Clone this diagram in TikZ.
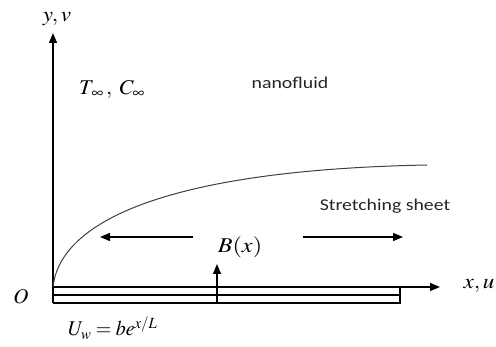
\documentclass[tikz,border=0pt]{standalone}
\usepackage{mathptmx}
\usepackage{fontspec}
\newfontfamily\calibri{Carlito}
\usetikzlibrary{arrows.meta}
\tikzset{
  ax/.style={line width=1.3pt, -{Triangle[length=10pt,width=8pt]}},
  arr/.style={line width=1.3pt, -{Triangle[length=10pt,width=8pt]}},
  sheetline/.style={line width=1.2pt},
  mlab/.style={inner sep=0pt, font=\fontsize{21}{24}\selectfont},
  slab/.style={inner sep=0pt, font=\calibri\fontsize{16.5}{20}\selectfont, text=black!85},
}
\begin{document}
\begin{tikzpicture}[x=1pt,y=-1pt]
\useasboundingbox (0,0) rectangle (496,347);
% coordinates
\coordinate (O) at (53,287);
\coordinate (ytip) at (53,33);
\coordinate (xtip) at (440,287);
\coordinate (mid0) at (53,295);
\coordinate (mid1) at (400,295);
\coordinate (bot0) at (53,303);
\coordinate (bot1) at (400,303);
\coordinate (top1) at (400,287);
\coordinate (Bbase) at (217,303);
\coordinate (Btip) at (217,264);
\coordinate (Lstart) at (193,237);
\coordinate (Ltip) at (100,237);
\coordinate (Rstart) at (303,237);
\coordinate (Rtip) at (403,237);
\coordinate (cend) at (427,165);
% axes
\draw[ax] (bot0) -- (ytip);
\draw[ax] (O) -- (xtip);
% sheet
\draw[sheetline] (mid0) -- (mid1);
\draw[sheetline] (bot0) -- (bot1) -- (top1);
\draw[arr] (Bbase) -- (Btip);
% stretching arrows
\draw[arr] (Lstart) -- (Ltip);
\draw[arr] (Rstart) -- (Rtip);
% boundary layer curve
\draw[line width=1pt, black!75] (O) .. controls (60,222) and (165,170) .. (cend);
% labels
\node[mlab] (yv) at (57,19) {\scalebox{1.1}[1]{$y,v$}};
\node[mlab] (TC) at (112,89) {\scalebox{1.05}[1]{$T_{\mkern2mu\infty}\,,\;C_{\infty}$}};
\node[slab] (nf) at (290,83) {\scalebox{1.2}[1]{nanofluid}};
\node[slab] (ss) at (385,206) {\scalebox{1.2}[1]{Stretching sheet}};
\node[mlab] (Bx) at (240,247) {\scalebox{1.15}[1]{$B(x)$}};
\node[mlab] (xu) at (479,286) {\scalebox{1.1}[1]{$x,u$}};
\node[mlab] (Olab) at (21,297) {$O$};
\node[mlab, anchor=west] (Uw) at (68,328) {\scalebox{0.95}[1]{$U_w = be^{x/L}$}};
\end{tikzpicture}
\end{document}
